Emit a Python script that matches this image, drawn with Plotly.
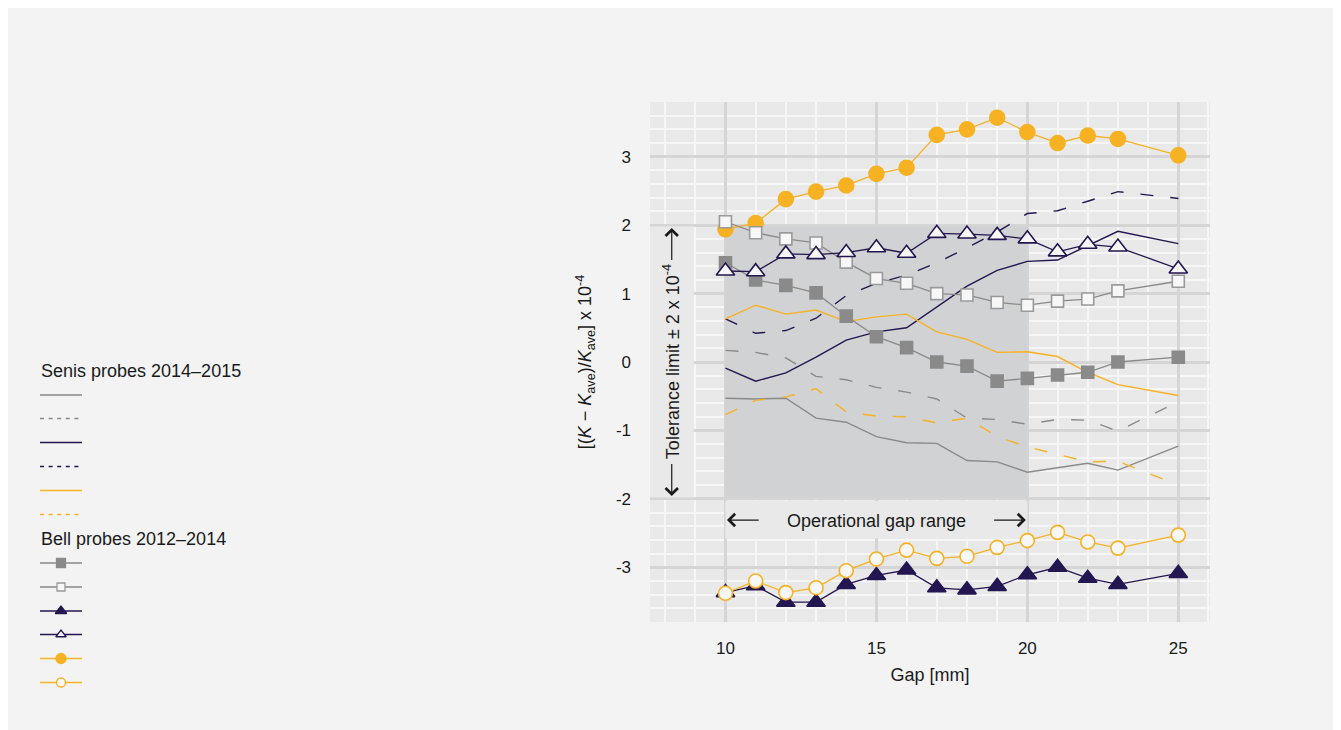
import plotly.graph_objects as go

# ---------------- data ----------------
gap = [10, 11, 12, 13, 14, 15, 16, 17, 18, 19, 20, 21, 22, 23, 25]

senis_grey_solid = [-0.53, -0.54, -0.53, -0.82, -0.88, -1.09, -1.18, -1.19, -1.44, -1.46, -1.61, -1.54, -1.48, -1.58, -1.23]
senis_grey_dash = [0.17, 0.14, 0.06, -0.21, -0.26, -0.37, -0.44, -0.54, -0.82, -0.84, -0.91, -0.84, -0.85, -1.01, -0.58]
senis_navy_solid = [-0.09, -0.28, -0.16, 0.07, 0.32, 0.44, 0.50, 0.80, 1.11, 1.34, 1.47, 1.49, 1.70, 1.91, 1.73]
senis_navy_dash = [0.63, 0.42, 0.46, 0.64, 0.97, 1.15, 1.27, 1.45, 1.67, 1.90, 2.17, 2.21, 2.35, 2.49, 2.39]
senis_orange_solid = [0.63, 0.83, 0.70, 0.76, 0.59, 0.66, 0.70, 0.44, 0.33, 0.14, 0.15, 0.08, -0.15, -0.33, -0.49]
senis_orange_dash = [-0.77, -0.56, -0.51, -0.39, -0.73, -0.79, -0.80, -0.89, -0.82, -1.09, -1.24, -1.35, -1.46, -1.45, -1.80]

bell_grey_filled = [1.45, 1.20, 1.12, 1.01, 0.67, 0.37, 0.21, 0.00, -0.06, -0.28, -0.24, -0.19, -0.15, 0.00, 0.07]
bell_grey_open = [2.05, 1.89, 1.80, 1.74, 1.46, 1.22, 1.15, 1.00, 0.98, 0.87, 0.83, 0.89, 0.92, 1.04, 1.18]
bell_navy_filled = [-3.37, -3.27, -3.51, -3.51, -3.25, -3.12, -3.04, -3.30, -3.33, -3.28, -3.11, -3.00, -3.16, -3.25, -3.09]
bell_navy_open = [1.33, 1.32, 1.58, 1.57, 1.60, 1.67, 1.59, 1.88, 1.87, 1.85, 1.80, 1.61, 1.72, 1.68, 1.36]
bell_orange_filled = [1.94, 2.03, 2.38, 2.49, 2.58, 2.75, 2.84, 3.32, 3.40, 3.57, 3.36, 3.20, 3.31, 3.26, 3.02]
bell_orange_open = [-3.38, -3.20, -3.37, -3.30, -3.05, -2.88, -2.75, -2.87, -2.84, -2.71, -2.61, -2.49, -2.63, -2.72, -2.53]

x_tick_vals = [10, 15, 20, 25]
x_tick_labels = ["10", "15", "20", "25"]
y_tick_vals = [-3, -2, -1, 0, 1, 2, 3]
y_tick_labels = ["-3", "-2", "-1", "0", "1", "2", "3"]

senis_title = "Senis probes 2014\u20132015"
bell_title = "Bell probes 2012\u20132014"
x_title = "Gap [mm]"
y_title = "[(<i>K</i> \u2212 <i>K</i><sub>ave</sub>)/<i>K</i><sub>ave</sub>] x 10<sup>-4</sup>"
tol_text = "Tolerance limit \u00b1 2 x 10<sup>-4</sup>"
op_text = "Operational gap range"

# ---------------- style ----------------
GREY = "#8a8a8a"
GREY_OPEN = "#9a9a9a"
NAVY = "#241650"
ORANGE = "#f7b223"
WHITE_FILL = "#f7f7f7"
TEXT = "#1a1a1a"
FONT = "Liberation Sans, Arial, sans-serif"
DASH = "13px,17px"
LEG_DASH = "4px,4.6px"

W, H = 1341, 730
OFF = 8  # page offset of the figure (body margin)

def dom_x(p0, p1):
    return [(p0 - OFF) / W, (p1 - OFF) / W]

def dom_y(top, bottom):
    return [1 - (bottom - OFF) / H, 1 - (top - OFF) / H]

fig = go.Figure()

# Senis probe series (lines only)
senis = [
    (senis_grey_solid, GREY, "solid"),
    (senis_grey_dash, GREY, DASH),
    (senis_navy_solid, NAVY, "solid"),
    (senis_navy_dash, NAVY, DASH),
    (senis_orange_solid, ORANGE, "solid"),
    (senis_orange_dash, ORANGE, DASH),
]
for ys, col, dash in senis:
    fig.add_trace(go.Scatter(
        x=gap, y=ys, mode="lines", showlegend=False,
        line=dict(color=col, width=1.4, dash=dash), xaxis="x", yaxis="y",
    ))

# Bell probe series (lines + markers), in drawing order
bell = [
    (bell_orange_filled, ORANGE, "circle", ORANGE, ORANGE, 15),
    (bell_grey_filled, GREY, "square", GREY, GREY, 12),
    (bell_grey_open, GREY, "square", WHITE_FILL, GREY_OPEN, 12),
    (bell_navy_filled, NAVY, "triangle-up", NAVY, NAVY, 16),
    (bell_navy_open, NAVY, "triangle-up", WHITE_FILL, NAVY, 16),
    (bell_orange_open, ORANGE, "circle", WHITE_FILL, ORANGE, 14),
]
for ys, col, sym, fill, edge, size in bell:
    fig.add_trace(go.Scatter(
        x=gap, y=ys, mode="lines+markers", showlegend=False,
        line=dict(color=col, width=1.3),
        marker=dict(symbol=sym, color=fill, size=size, line=dict(color=edge, width=1.6)),
        xaxis="x", yaxis="y",
    ))

# ---------------- hand-built legend (pixel axis x2/y2) ----------------
LEG_X0, LEG_X1, LEG_XM = 40, 82, 61
senis_rows = [395, 418.5, 442.5, 466.5, 490.5, 514.5]
bell_rows = [563, 587, 611, 634.5, 658.5, 682.5]
senis_leg_styles = [(GREY, "solid"), (GREY, LEG_DASH), (NAVY, "solid"),
                    (NAVY, LEG_DASH), (ORANGE, "solid"), (ORANGE, LEG_DASH)]
bell_leg_styles = [(GREY, "square", GREY, GREY, 9),
                   (GREY, "square", WHITE_FILL, GREY_OPEN, 8),
                   (NAVY, "triangle-up", NAVY, NAVY, 10),
                   (NAVY, "triangle-up", WHITE_FILL, NAVY, 9),
                   (ORANGE, "circle", ORANGE, ORANGE, 10),
                   (ORANGE, "circle", WHITE_FILL, ORANGE, 9)]
for yy, (col, dash) in zip(senis_rows, senis_leg_styles):
    fig.add_trace(go.Scatter(x=[LEG_X0, LEG_X1], y=[yy, yy], mode="lines", showlegend=False,
                             line=dict(color=col, width=1.4, dash=dash),
                             xaxis="x2", yaxis="y2", hoverinfo="skip"))
for yy, (col, sym, fill, edge, size) in zip(bell_rows, bell_leg_styles):
    fig.add_trace(go.Scatter(x=[LEG_X0, LEG_X1], y=[yy, yy], mode="lines", showlegend=False,
                             line=dict(color=col, width=1.3),
                             xaxis="x2", yaxis="y2", hoverinfo="skip"))
    fig.add_trace(go.Scatter(x=[LEG_XM], y=[yy], mode="markers", showlegend=False,
                             marker=dict(symbol=sym, color=fill, size=size,
                                         line=dict(color=edge, width=1.3)),
                             xaxis="x2", yaxis="y2", hoverinfo="skip"))
fig.add_annotation(x=LEG_X0 - 1, y=371, xref="x2", yref="y2", text=senis_title,
                   showarrow=False, xanchor="left", yanchor="middle",
                   font=dict(family=FONT, size=18, color=TEXT))
fig.add_annotation(x=LEG_X0 - 1, y=539, xref="x2", yref="y2", text=bell_title,
                   showarrow=False, xanchor="left", yanchor="middle",
                   font=dict(family=FONT, size=18, color=TEXT))

# ---------------- plot background & shaded regions ----------------
fig.add_shape(type="rect", xref="x domain", yref="y domain", x0=0, x1=1, y0=0, y1=1,
              fillcolor="#e9e9e9", line_width=0, layer="below")
fig.add_shape(type="rect", xref="x", yref="y", x0=10, x1=20, y0=-1.98, y1=1.98,
              fillcolor="#d1d2d4", line_width=0, layer="between")
fig.add_shape(type="rect", xref="x", yref="y", x0=7.5, x1=8.95, y0=-1.98, y1=1.98,
              fillcolor="#e9e9e9", line_width=0, layer="between")
fig.add_shape(type="rect", xref="x", yref="y", x0=10, x1=20, y0=-2.03, y1=-2.58,
              fillcolor="#e9e9e9", line_width=0, layer="between")

# ---------------- annotations ----------------
fig.add_annotation(x=15, y=-2.33, xref="x", yref="y", text=op_text, showarrow=False,
                   font=dict(family=FONT, size=18, color=TEXT))
arrow_kw = dict(showarrow=True, arrowhead=4, arrowsize=2.0, arrowwidth=1.2,
                arrowcolor=TEXT, text="", axref="x", ayref="y", xref="x", yref="y")
fig.add_annotation(x=10.05, y=-2.31, ax=11.15, ay=-2.31, **arrow_kw)
fig.add_annotation(x=19.95, y=-2.31, ax=18.85, ay=-2.31, **arrow_kw)
fig.add_annotation(x=8.2, y=0, xref="x", yref="y", text=tol_text, showarrow=False,
                   textangle=-90, font=dict(family=FONT, size=18, color=TEXT))
fig.add_annotation(x=8.22, y=1.96, ax=8.22, ay=1.47, **arrow_kw)
fig.add_annotation(x=8.22, y=-1.96, ax=8.22, ay=-1.47, **arrow_kw)

fig.update_layout(
    width=W, height=H,
    paper_bgcolor="#f3f3f3", plot_bgcolor="#f3f3f3",
    margin=dict(l=0, r=0, t=0, b=0, autoexpand=False),
    font=dict(family=FONT, size=17, color=TEXT),
    showlegend=False,
    xaxis=dict(
        domain=dom_x(650, 1210), anchor="y",
        range=[7.5, 26.05], tickmode="array", tickvals=x_tick_vals, ticktext=x_tick_labels,
        showgrid=True, gridcolor="#d5d5d5", gridwidth=2.5, zeroline=False,
        ticks="", ticklabelstandoff=14,
        minor=dict(tickmode="linear", tick0=0, dtick=1, showgrid=True,
                   gridcolor="#f6f6f6", gridwidth=2),
        title=dict(text=x_title, standoff=11, font=dict(size=18)),
        showline=False, fixedrange=True,
    ),
    yaxis=dict(
        domain=dom_y(102, 622), anchor="x",
        range=[-3.8, 3.8], tickmode="array", tickvals=y_tick_vals, ticktext=y_tick_labels,
        showgrid=True, gridcolor="#d5d5d5", gridwidth=2.5, zeroline=False,
        ticks="", ticklabelstandoff=18,
        minor=dict(tickmode="linear", tick0=0, dtick=0.2, showgrid=True,
                   gridcolor="#f6f6f6", gridwidth=2),
        title=dict(text=y_title, standoff=19, font=dict(size=18)),
        showline=False, fixedrange=True,
    ),
    xaxis2=dict(domain=[0, 0.4], anchor="y2", range=[OFF, OFF + 0.4 * W],
                visible=False, fixedrange=True),
    yaxis2=dict(domain=[0, 1], anchor="x2", range=[OFF + H, OFF],
                visible=False, fixedrange=True),
)

fig.write_html("out.html")
